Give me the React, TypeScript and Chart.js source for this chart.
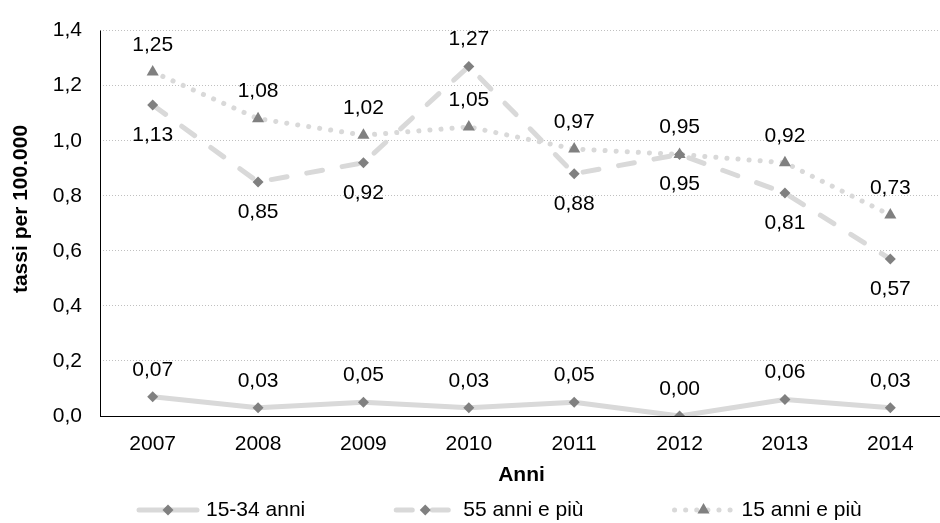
import React, { useEffect, useRef } from 'react';
import { Chart, registerables } from 'chart.js';

Chart.register(...registerables);

// ---- data ----
const years = ['2007', '2008', '2009', '2010', '2011', '2012', '2013', '2014'];
const giovani = [0.07, 0.03, 0.05, 0.03, 0.05, 0.0, 0.06, 0.03];
const anziani = [1.13, 0.85, 0.92, 1.27, 0.88, 0.95, 0.81, 0.57];
const totale = [1.25, 1.08, 1.02, 1.05, 0.97, 0.95, 0.92, 0.73];
const seriesNames = ['15-34 anni', '55 anni e più', '15 anni e più'];
const yMin = 0;
const yMax = 1.4;
const yStep = 0.2;
const xTitle = 'Anni';
const yTitle = 'tassi per 100.000';

const FONT = '"Liberation Sans", Arial, sans-serif';
const FS = 21;
const LINE = '#d9d9d9';
const MARK = '#808080';

const fmt = (v: number, d: number) => v.toFixed(d).replace('.', ',');

function drawMarker(ctx: CanvasRenderingContext2D, style: string, r: number, x: number, y: number) {
  ctx.beginPath();
  if (style === 'triangle') {
    const s = Math.sin(Math.PI / 3) * r;
    ctx.moveTo(x, y - r);
    ctx.lineTo(x + s, y + r / 2);
    ctx.lineTo(x - s, y + r / 2);
  } else {
    ctx.moveTo(x - r, y);
    ctx.lineTo(x, y - r);
    ctx.lineTo(x + r, y);
    ctx.lineTo(x, y + r);
  }
  ctx.closePath();
  ctx.fillStyle = MARK;
  ctx.fill();
}

const valueLabels = {
  id: 'valueLabels',
  afterDatasetsDraw(chart: any) {
    const ctx = chart.ctx as CanvasRenderingContext2D;
    ctx.save();
    ctx.font = `${FS}px ${FONT}`;
    ctx.fillStyle = '#000';
    ctx.textAlign = 'center';
    ctx.textBaseline = 'middle';
    chart.data.datasets.forEach((ds: any, i: number) => {
      const meta = chart.getDatasetMeta(i);
      meta.data.forEach((pt: any, j: number) => {
        const below = ds.labelBelow && ds.labelBelow[j];
        const y = below ? pt.y + 30 : pt.y - 27;
        ctx.fillText(fmt(ds.data[j], 2), pt.x, y);
      });
    });
    ctx.restore();
  },
};

const extras = {
  id: 'extras',
  beforeDatasetsDraw(chart: any) {
    const ctx = chart.ctx as CanvasRenderingContext2D;
    const area = chart.chartArea;
    ctx.save();
    ctx.strokeStyle = '#000';
    ctx.lineWidth = 1;
    ctx.beginPath();
    ctx.moveTo(Math.round(area.left) + 0.5, area.top);
    ctx.lineTo(Math.round(area.left) + 0.5, area.bottom);
    ctx.stroke();
    ctx.restore();
  },
  afterDraw(chart: any) {
    const ctx = chart.ctx as CanvasRenderingContext2D;
    const area = chart.chartArea;
    ctx.save();
    // axis titles
    ctx.fillStyle = '#000';
    ctx.font = `bold ${FS}px ${FONT}`;
    ctx.textAlign = 'center';
    ctx.textBaseline = 'middle';
    ctx.fillText(xTitle, (area.left + area.right) / 2, 475);
    ctx.save();
    ctx.translate(21, 209);
    ctx.rotate(-Math.PI / 2);
    ctx.fillText(yTitle, 0, 0);
    ctx.restore();

    // legend
    ctx.font = `${FS}px ${FONT}`;
    const symW = 62;
    const gapText = 7;
    const gap = 89;
    const ds = chart.data.datasets;
    const widths = ds.map((d: any) => symW + gapText + ctx.measureText(d.label).width);
    let x = 137;
    const y = 510;
    ds.forEach((d: any, i: number) => {
      ctx.save();
      ctx.strokeStyle = d.borderColor;
      ctx.lineWidth = d.borderWidth;
      ctx.lineCap = d.borderCapStyle || 'butt';
      ctx.setLineDash(d.borderDash || []);
      ctx.beginPath();
      ctx.moveTo(x + 2, y);
      ctx.lineTo(x + symW - 2, y);
      ctx.stroke();
      ctx.restore();
      drawMarker(ctx, d.pointStyle, d.pointRadius, x + symW / 2, y);
      ctx.fillStyle = '#000';
      ctx.textAlign = 'left';
      ctx.textBaseline = 'middle';
      ctx.fillText(d.label, x + symW + gapText, y);
      x += widths[i] + gap;
    });
    ctx.restore();
  },
};

export default function App() {
  const ref = useRef<HTMLCanvasElement | null>(null);

  useEffect(() => {
    if (!ref.current) return;
    const chart = new Chart(ref.current, {
      type: 'line',
      data: {
        labels: years,
        datasets: [
          {
            label: seriesNames[0],
            data: giovani,
            borderColor: LINE,
            borderWidth: 5,
            borderCapStyle: 'round',
            borderJoinStyle: 'round',
            pointStyle: 'rectRot',
            pointRadius: 5.5,
            pointBackgroundColor: MARK,
            pointBorderWidth: 0,
            tension: 0,
            labelBelow: [false, false, false, false, false, false, false, false],
          } as any,
          {
            label: seriesNames[1],
            data: anziani,
            borderColor: LINE,
            borderWidth: 5,
            borderDash: [16, 20],
            borderCapStyle: 'round',
            pointStyle: 'rectRot',
            pointRadius: 5.5,
            pointBackgroundColor: MARK,
            pointBorderWidth: 0,
            tension: 0,
            labelBelow: [true, true, true, false, true, true, true, true],
          } as any,
          {
            label: seriesNames[2],
            data: totale,
            borderColor: LINE,
            borderWidth: 5,
            borderDash: [0.1, 11],
            borderCapStyle: 'round',
            pointStyle: 'triangle',
            pointRadius: 7,
            pointBackgroundColor: MARK,
            pointBorderWidth: 0,
            tension: 0,
            labelBelow: [false, false, false, false, false, false, false, false],
          } as any,
        ],
      },
      options: {
        animation: false,
        responsive: false,
        maintainAspectRatio: false,
        layout: { padding: { top: 23, left: 0, right: 0, bottom: 0 } },
        plugins: {
          legend: { display: false },
          tooltip: { enabled: false },
        },
        scales: {
          x: {
            type: 'category',
            offset: true,
            grid: { display: false, drawTicks: false },
            border: { display: true, color: '#000', width: 1 },
            ticks: {
              color: '#000',
              font: { family: FONT, size: FS },
              padding: 16,
              maxRotation: 0,
              autoSkip: false,
            },
            afterFit: (s: any) => {
              s.height = 107;
            },
          },
          y: {
            min: yMin,
            max: yMax,
            grid: { color: '#c0c0c0', lineWidth: 1, drawTicks: false },
            border: { display: false, dash: [1, 2] },
            ticks: {
              stepSize: yStep,
              color: '#000',
              font: { family: FONT, size: FS },
              padding: 18,
              callback: (v: any) => fmt(Number(v), 1),
            },
            afterFit: (s: any) => {
              s.width = 100;
            },
          },
        },
      },
      plugins: [valueLabels, extras],
    });
    return () => chart.destroy();
  }, []);

  return (
    <div style={{ position: 'fixed', left: 0, top: 0, width: 940, height: 523, overflow: 'hidden', background: '#fff' }}>
      <canvas ref={ref} width={950} height={523} style={{ width: 950, height: 523, display: 'block' }} />
    </div>
  );
}
